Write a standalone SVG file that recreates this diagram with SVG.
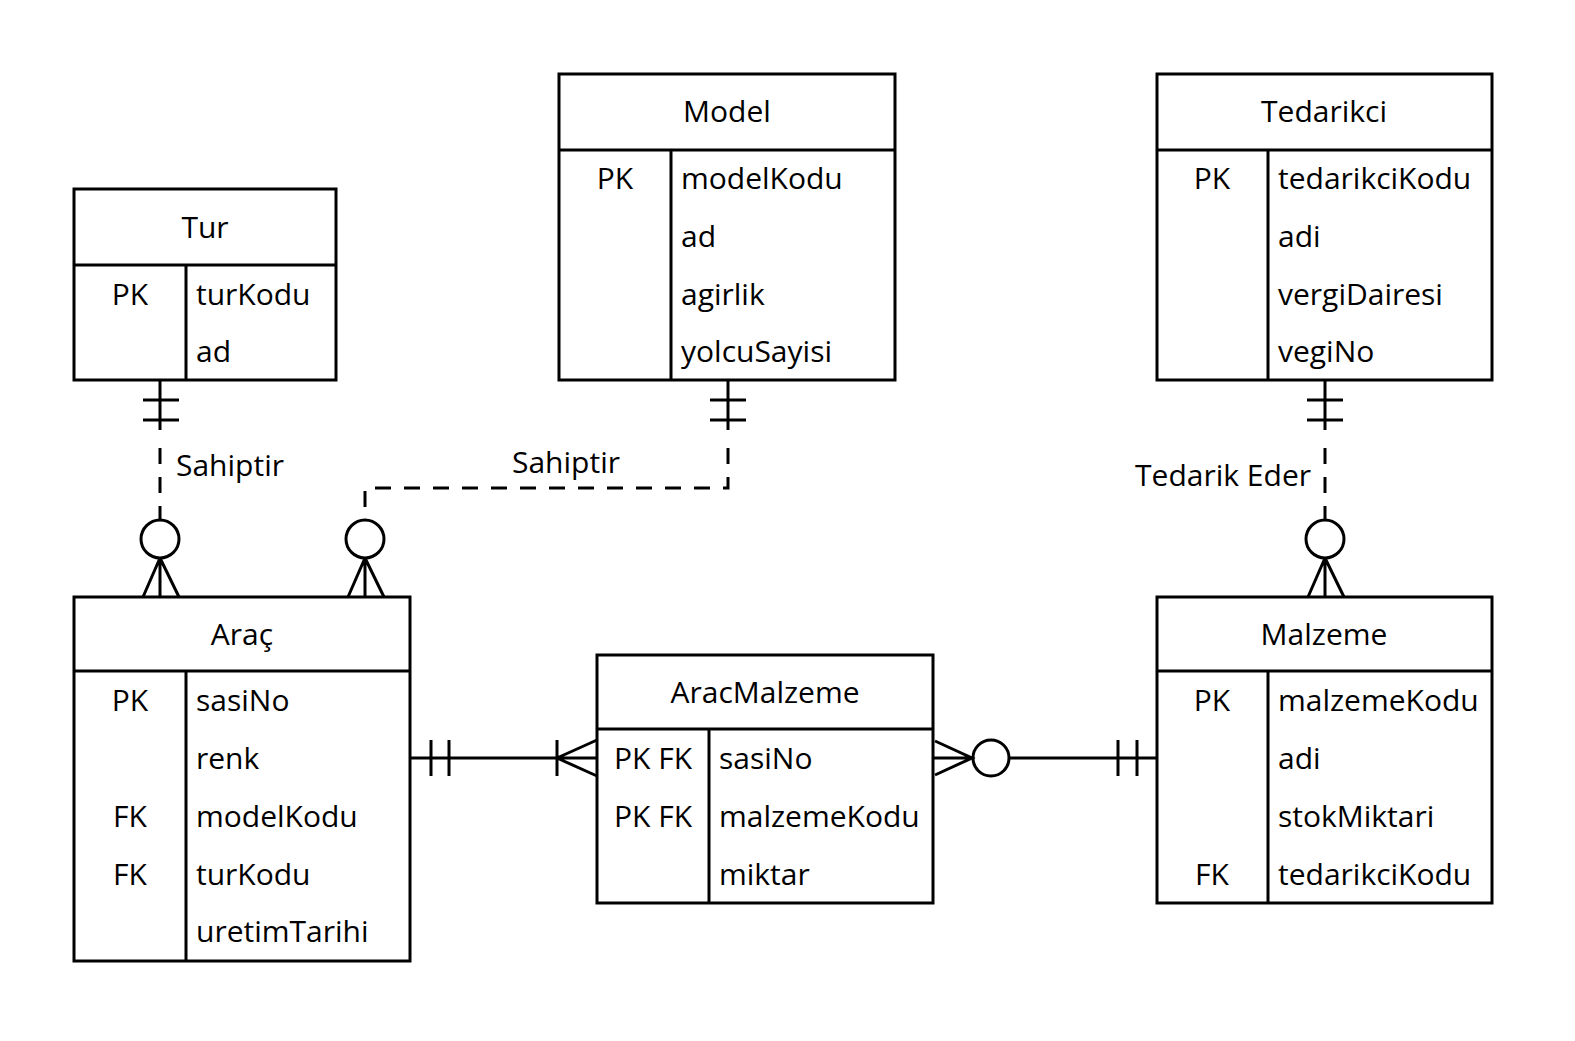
<svg xmlns="http://www.w3.org/2000/svg" width="1575" height="1041" viewBox="0 0 1575 1041">
<style>
.box{fill:#fff;stroke:#000;stroke-width:3}
.ln{fill:none;stroke:#000;stroke-width:3}
.dash{fill:none;stroke:#000;stroke-width:3;stroke-dasharray:16 13}
text{font-family:"Open Sans","Noto Sans","DejaVu Sans",sans-serif;font-size:30px;fill:#000}
.c{text-anchor:middle}
</style>
<rect width="1575" height="1041" fill="#fff"/>
<g id="connectors">
  <!-- Tur -> Arac -->
  <g id="c-tur-arac">
    <path class="ln" d="M160 380V430M143 400H179M143 420H179"/>
    <path class="dash" d="M160 448V521"/>
    <circle class="ln" cx="160" cy="539" r="19"/>
    <path class="ln" d="M160 558V597M160 558L143 597M160 558L179 597"/>
    <text x="176" y="476">Sahiptir</text>
  </g>
  <!-- Model -> Arac -->
  <g id="c-model-arac">
    <path class="ln" d="M728 380V430M710 400H746M710 420H746"/>
    <path class="dash" d="M728 448V488H365V521"/>
    <circle class="ln" cx="365" cy="539" r="19"/>
    <path class="ln" d="M365 558V597M365 558L348 597M365 558L384 597"/>
    <text x="512" y="473">Sahiptir</text>
  </g>
  <!-- Tedarikci -> Malzeme -->
  <g id="c-ted-mal">
    <path class="ln" d="M1325 380V430M1307 400H1343M1307 420H1343"/>
    <path class="dash" d="M1325 448V521"/>
    <circle class="ln" cx="1325" cy="539" r="19"/>
    <path class="ln" d="M1325 558V597M1325 558L1308 597M1325 558L1344 597"/>
    <text x="1311" y="486" text-anchor="end">Tedarik Eder</text>
  </g>
  <!-- Arac -> AracMalzeme -->
  <g id="c-arac-am">
    <path class="ln" d="M410 758H597M431 740V776M449 740V776M557 740V776M557 758L597 740M557 758L597 776"/>
  </g>
  <!-- AracMalzeme -> Malzeme -->
  <g id="c-am-mal">
    <path class="ln" d="M933 758H972M935 741L972 758L935 775"/>
    <circle class="ln" cx="991" cy="758" r="18"/>
    <path class="ln" d="M1009 758H1157M1118 740V776M1137 740V776"/>
  </g>
</g>

<g id="tur">
  <rect class="box" x="74" y="189" width="262" height="191"/>
  <path class="ln" d="M74 265H336M186 265V380"/>
  <text class="c" x="205" y="238">Tur</text>
  <text class="c" x="130" y="305">PK</text>
  <text x="196" y="305">turKodu</text>
  <text x="196" y="362">ad</text>
</g>

<g id="model">
  <rect class="box" x="559" y="74" width="336" height="306"/>
  <path class="ln" d="M559 150H895M671 150V380"/>
  <text class="c" x="727" y="122">Model</text>
  <text class="c" x="615" y="189">PK</text>
  <text x="681" y="189">modelKodu</text>
  <text x="681" y="247">ad</text>
  <text x="681" y="305">agirlik</text>
  <text x="681" y="362">yolcuSayisi</text>
</g>

<g id="tedarikci">
  <rect class="box" x="1157" y="74" width="335" height="306"/>
  <path class="ln" d="M1157 150H1492M1268 150V380"/>
  <text class="c" x="1324" y="122">Tedarikci</text>
  <text class="c" x="1212" y="189">PK</text>
  <text x="1278" y="189">tedarikciKodu</text>
  <text x="1278" y="247">adi</text>
  <text x="1278" y="305">vergiDairesi</text>
  <text x="1278" y="362">vegiNo</text>
</g>

<g id="arac">
  <rect class="box" x="74" y="597" width="336" height="364"/>
  <path class="ln" d="M74 671H410M186 671V961"/>
  <text class="c" x="242" y="645">Araç</text>
  <text class="c" x="130" y="711">PK</text>
  <text x="196" y="711">sasiNo</text>
  <text x="196" y="769">renk</text>
  <text class="c" x="130" y="827">FK</text>
  <text x="196" y="827">modelKodu</text>
  <text class="c" x="130" y="885">FK</text>
  <text x="196" y="885">turKodu</text>
  <text x="196" y="942">uretimTarihi</text>
</g>

<g id="aracmalzeme">
  <rect class="box" x="597" y="655" width="336" height="248"/>
  <path class="ln" d="M597 729H933M709 729V903"/>
  <text class="c" x="765" y="703">AracMalzeme</text>
  <text class="c" x="653" y="769">PK FK</text>
  <text x="719" y="769">sasiNo</text>
  <text class="c" x="653" y="827">PK FK</text>
  <text x="719" y="827">malzemeKodu</text>
  <text x="719" y="885">miktar</text>
</g>

<g id="malzeme">
  <rect class="box" x="1157" y="597" width="335" height="306"/>
  <path class="ln" d="M1157 671H1492M1268 671V903"/>
  <text class="c" x="1324" y="645">Malzeme</text>
  <text class="c" x="1212" y="711">PK</text>
  <text x="1278" y="711">malzemeKodu</text>
  <text x="1278" y="769">adi</text>
  <text x="1278" y="827">stokMiktari</text>
  <text class="c" x="1212" y="885">FK</text>
  <text x="1278" y="885">tedarikciKodu</text>
</g>
</svg>
